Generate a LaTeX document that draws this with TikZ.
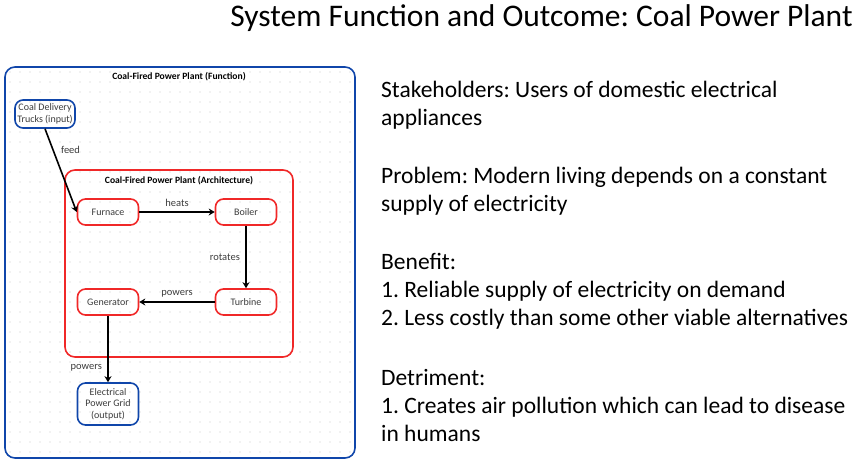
\documentclass[tikz,border=0pt]{standalone}
\usepackage{fontspec}
\setmainfont{Carlito}
\usetikzlibrary{arrows.meta}
\usetikzlibrary{positioning}

\definecolor{gridblue}{RGB}{16,70,170}
\definecolor{partred}{RGB}{240,40,40}
\definecolor{labelgray}{RGB}{60,60,60}

\tikzset{
  part/.style={draw=partred, line width=1.6pt, rounded corners=8pt, minimum width=61pt, minimum height=26pt, font=\fontsize{10}{11.5}\selectfont, text=labelgray, align=center, inner sep=1pt},
  io/.style={part, draw=gridblue},
  flow/.style={draw=black, line width=1.6pt, -{Stealth[length=6pt, width=7pt]}},
  edgelabel/.style={font=\fontsize{10.5}{12}\selectfont, text=labelgray},
  boxtitle/.style={font=\fontsize{9.6}{11}\selectfont\bfseries},
  bodyline/.style={anchor=base west, font=\fontsize{23.5}{28}\selectfont, inner sep=0pt}
}

\begin{document}
\frenchspacing
\begin{tikzpicture}[x=1pt, y=-1pt]
\useasboundingbox (0,0) rectangle (859,464);

% dotted background of the diagram
\foreach \x in {10,20,...,350}
  \foreach \y in {72,82,...,452}
    \fill[black!22] (\x,\y) circle (0.55pt);

% outer and inner frames
\draw[gridblue, line width=1.6pt, rounded corners=10pt] (5,67) rectangle (355,458);
\draw[partred, line width=1.6pt, rounded corners=10pt] (65,170) rectangle (293,357);
\node[boxtitle] (functitle) at (179,77) {Coal-Fired Power Plant (Function)};
\node[boxtitle] (archtitle) at (179,181) {Coal-Fired Power Plant (Architecture)};

% parts
\node[io, minimum width=60pt, minimum height=28pt] (trucks) at (45,114) {Coal Delivery\\Trucks (input)};
\node[part] (furnace) at (108,212) {Furnace};
\node[part] (boiler) at (246,212) {Boiler};
\node[part] (turbine) at (246,302) {Turbine};
\node[part] (generator) at (108,302) {Generator};
\node[io, minimum height=42pt] (grid) at (108,404) {Electrical\\Power Grid\\(output)};

% connectors
\draw[flow] (trucks.south) -- (furnace.west) node[edgelabel, pos=0.25, right=4pt] (feed) {feed};
\draw[flow] (furnace) -- (boiler) node[edgelabel, midway, above=1pt] (heats) {heats};
\draw[flow] (boiler) -- (turbine) node[edgelabel, midway, left=2pt] (rotates) {rotates};
\draw[flow] (turbine) -- (generator) node[edgelabel, midway, above=1pt] (powersa) {powers};
\draw[flow] (generator) -- (grid) node[edgelabel, pos=0.78, left=2pt] (powersb) {powers};

% title and text
\node[font=\fontsize{31.5}{36}\selectfont] (title) at (541.5,18) {System Function and Outcome: Coal Power Plant};

\node[bodyline] (s1) at (381,97) {Stakeholders: Users of domestic electrical};
\node[bodyline] (s2) at (381,125) {appliances};
\node[bodyline] (p1) at (381,183) {Problem: Modern living depends on a constant};
\node[bodyline] (p2) at (381,211) {supply of electricity};
\node[bodyline] (b1) at (381,269) {Benefit:};
\node[bodyline] (b2) at (381,297) {1. Reliable supply of electricity on demand};
\node[bodyline] (b3) at (381,325) {2. Less costly than some other viable alternatives};
\node[bodyline] (d1) at (381,385) {Detriment:};
\node[bodyline] (d2) at (381,413) {1. Creates air pollution which can lead to disease};
\node[bodyline] (d3) at (381,441) {in humans};

\end{tikzpicture}
\end{document}
